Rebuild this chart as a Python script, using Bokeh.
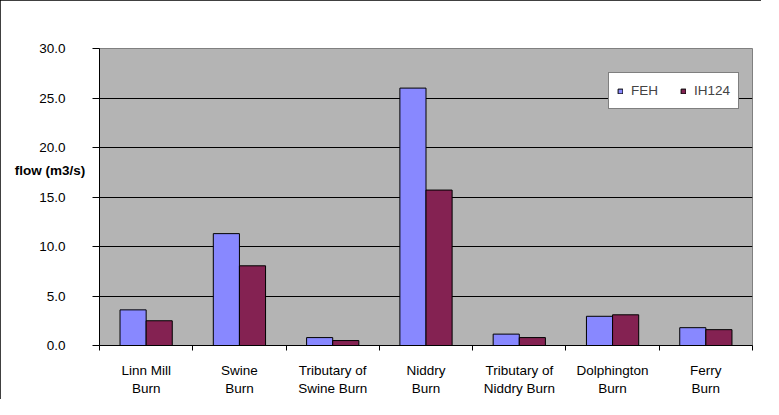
import numpy as np
from bokeh.plotting import figure
from bokeh.models import Range1d, FixedTicker, Legend, LegendItem, NumeralTickFormatter
from bokeh.embed import file_html
from bokeh.resources import INLINE

categories = ["Linn Mill\nBurn", "Swine\nBurn", "Tributary of\nSwine Burn", "Niddry\nBurn",
              "Tributary of\nNiddry Burn", "Dolphington\nBurn", "Ferry\nBurn"]
feh = [3.6, 11.3, 0.8, 26.0, 1.15, 2.95, 1.8]
ih124 = [2.5, 8.05, 0.5, 15.7, 0.8, 3.1, 1.6]
y_ticks = [0, 5, 10, 15, 20, 25, 30]
y_title = "flow (m3/s)"

FONT = "Liberation Sans"
n = len(categories)
centers = np.arange(n) + 0.5
bw = 0.28

W, H = 761, 399
p = figure(width=W, height=H, output_backend="svg", toolbar_location=None,
           x_range=Range1d(0, n), y_range=Range1d(0, 30),
           min_border_left=99, min_border_right=9, min_border_top=48, min_border_bottom=54)
p.styles = {"outline": "1px solid black", "outline-offset": "-1px"}
p.background_fill_color = "#B4B4B4"
p.border_fill_color = "white"
p.outline_line_color = "#808080"
p.outline_line_width = 1

r1 = p.vbar(x=centers - bw / 2, top=feh, width=bw, bottom=0,
            fill_color="#8888FF", line_color="black", line_width=1)
r2 = p.vbar(x=centers + bw / 2, top=ih124, width=bw, bottom=0,
            fill_color="#842252", line_color="black", line_width=1)

# y axis
ya = p.yaxis[0]
ya.ticker = FixedTicker(ticks=y_ticks)
ya.formatter = NumeralTickFormatter(format="0.0")
ya.major_tick_out = 7
ya.major_tick_in = 0
ya.minor_tick_line_color = None
ya.axis_line_color = "black"
ya.major_tick_line_color = "black"
ya.major_label_standoff = 27
ya.major_label_text_font = FONT
ya.major_label_text_font_size = "13.5px"
ya.major_label_text_color = "black"
ya.axis_label = y_title + "\n\n\n"
ya.axis_label_orientation = "horizontal"
ya.axis_label_standoff = -49
ya.axis_label_text_font = FONT
ya.axis_label_text_font_size = "13.5px"
ya.axis_label_text_font_style = "bold"
ya.axis_label_text_color = "black"

# x axis
xa = p.xaxis[0]
xa.ticker = FixedTicker(ticks=list(centers), minor_ticks=list(range(n + 1)))
xa.major_label_overrides = {float(c): lab for c, lab in zip(centers, categories)}
xa.major_tick_out = 0
xa.major_tick_in = 0
xa.major_tick_line_color = None
xa.minor_tick_out = 5
xa.minor_tick_in = 0
xa.minor_tick_line_color = "black"
xa.axis_line_color = "black"
xa.major_label_standoff = 12
xa.major_label_text_font = FONT
xa.major_label_text_font_size = "13.5px"
xa.major_label_text_color = "black"

p.xgrid.grid_line_color = None
p.ygrid.grid_line_color = "black"
p.ygrid.grid_line_width = 1
p.ygrid.ticker = FixedTicker(ticks=y_ticks)

legend = Legend(items=[LegendItem(label="FEH", renderers=[r1]),
                       LegendItem(label="IH124", renderers=[r2])],
                orientation="horizontal", location=(509, 236),
                glyph_width=6, glyph_height=6, label_standoff=8, spacing=22,
                padding=8, label_height=19, margin=0,
                label_text_font=FONT, label_text_font_size="13.5px",
                border_line_color="black", border_line_width=1,
                background_fill_color="white", background_fill_alpha=1)
p.add_layout(legend)

open("out.html", "w").write(file_html(p, INLINE))
